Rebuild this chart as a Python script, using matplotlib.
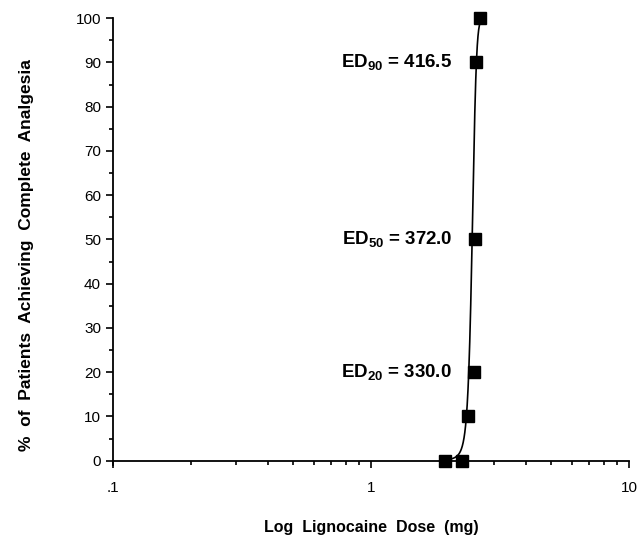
"""Dose-response curve: % of patients achieving complete analgesia vs log lignocaine dose."""

import numpy as np
import matplotlib

matplotlib.use("Agg")
import matplotlib.pyplot as plt
from matplotlib.ticker import FixedLocator, NullFormatter

plt.rcParams["font.family"] = ["Liberation Sans", "DejaVu Sans"]
plt.rcParams["mathtext.fontset"] = "custom"
plt.rcParams["mathtext.bf"] = "Liberation Sans:bold"
plt.rcParams["mathtext.rm"] = "Liberation Sans:bold"
plt.rcParams["mathtext.default"] = "bf"

# observed points (log dose, % achieving complete analgesia)
log_dose = [1.94, 2.25, 2.38, 2.51, 2.53, 2.555, 2.645]
pct_analgesia = [0, 0, 10, 20, 50, 90, 100]

# fitted logistic curve (in linear dose units)
fit_d50 = 292.0
fit_slope = 0.0305

ed_labels = ["ED$_{90}$ = 416.5", "ED$_{50}$ = 372.0", "ED$_{20}$ = 330.0"]
ed_levels = [90, 50, 20]

x_major = [0.1, 1, 10]
x_major_labels = [".1", "1", "10"]


def main() -> None:
    fig = plt.figure(figsize=(6.38, 5.53), dpi=100)
    ax = fig.add_axes([0.177, 0.159, 0.809, 0.808])

    curve_x = np.linspace(min(log_dose), max(log_dose), 400)
    curve_y = 100.0 / (1.0 + np.exp(-fit_slope * (10 ** curve_x - fit_d50)))
    ax.plot(curve_x, curve_y, color="black", lw=1.2, zorder=2)
    ax.plot(log_dose, pct_analgesia, "s", color="black", ms=8.5, zorder=3,
            clip_on=False)

    for label, level in zip(ed_labels, ed_levels):
        ax.text(2.06, level, label, ha="right", va="center",
                fontsize=13.5, fontweight="bold")

    ax.set_xscale("log")
    ax.set_xlim(0.1, 10)
    ax.set_ylim(-1, 100)
    ax.spines["bottom"].set_position(("data", 0))
    ax.spines["top"].set_visible(False)
    ax.spines["right"].set_visible(False)
    for side in ("left", "bottom"):
        ax.spines[side].set_linewidth(1.3)

    ax.xaxis.set_major_locator(FixedLocator(x_major))
    ax.set_xticklabels(x_major_labels)
    minor = [m * d for d in (0.1, 1) for m in range(2, 10)]
    ax.xaxis.set_minor_locator(FixedLocator(minor))
    ax.xaxis.set_minor_formatter(NullFormatter())
    ax.set_yticks(range(0, 101, 10))
    ax.set_yticks(range(5, 100, 10), minor=True)

    ax.tick_params(axis="both", which="major", direction="out", length=5,
                   width=1.2, labelsize=11)
    ax.tick_params(axis="both", which="minor", direction="out", length=3,
                   width=1.2)
    ax.tick_params(axis="x", which="major", pad=10)

    ax.set_xlabel("Log  Lignocaine  Dose  (mg)", fontsize=11.5,
                  fontweight="bold", labelpad=18)
    ax.set_ylabel("%  of  Patients  Achieving  Complete  Analgesia",
                  fontsize=12.5, fontweight="bold", labelpad=33)
    ax.yaxis.set_label_coords(-0.152, 0.47)

    fig.savefig("out.png", dpi=100)
    plt.close(fig)


if __name__ == "__main__":
    main()
